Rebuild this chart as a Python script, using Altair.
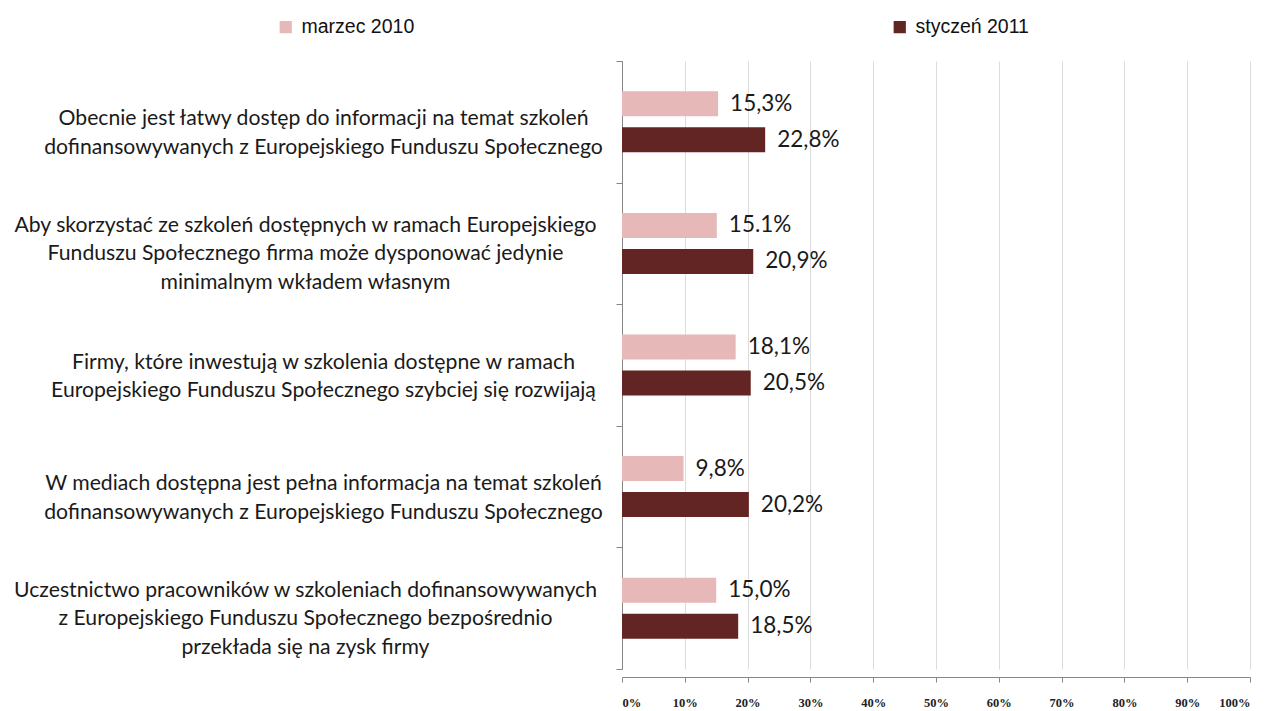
import altair as alt
import pandas as pd

categories = [
    "Obecnie jest łatwy dostęp do informacji na temat szkoleń|dofinansowywanych z Europejskiego Funduszu Społecznego",
    "Aby skorzystać ze szkoleń dostępnych w ramach Europejskiego|Funduszu Społecznego firma może dysponować jedynie|minimalnym wkładem własnym",
    "Firmy, które inwestują w szkolenia dostępne w ramach|Europejskiego Funduszu Społecznego szybciej się rozwijają",
    "W mediach dostępna jest pełna informacja na temat szkoleń|dofinansowywanych z Europejskiego Funduszu Społecznego",
    "Uczestnictwo pracowników w szkoleniach dofinansowywanych|z Europejskiego Funduszu Społecznego bezpośrednio|przekłada się na zysk firmy",
]
series = ["marzec 2010", "styczeń 2011"]
values_2010 = [15.3, 15.1, 18.1, 9.8, 15.0]
values_2011 = [22.8, 20.9, 20.5, 20.2, 18.5]
labels_2010 = ["15,3%", "15.1%", "18,1%", "9,8%", "15,0%"]
labels_2011 = ["22,8%", "20,9%", "20,5%", "20,2%", "18,5%"]
x_ticks = [0, 10, 20, 30, 40, 50, 60, 70, 80, 90, 100]
colors = ["#E6B9B8", "#632523"]

rows = []
for i, c in enumerate(categories):
    rows.append({"cat": c, "series": series[0], "value": values_2010[i], "label": labels_2010[i]})
    rows.append({"cat": c, "series": series[1], "value": values_2011[i], "label": labels_2011[i]})
df = pd.DataFrame(rows)

three_lines = "isString(datum.value) && length(split(datum.value, '|')) == 3"

y_enc = alt.Y(
    "cat:N",
    sort=categories,
    title=None,
    scale=alt.Scale(paddingInner=0, paddingOuter=0),
    axis=alt.Axis(
        labelExpr="isString(datum.value) ? split(datum.value, '|') : ''",
        labelAlign="center",
        labelBaseline="middle",
        labelPadding={"condition": {"test": three_lines, "value": 311}, "value": 293},
        labelOffset={"condition": {"test": three_lines, "value": -18}, "value": -3},
        labelFont="Lato",
        labelFontSize=21.2,
        labelLineHeight=28.5,
        labelColor="#1a1a1a",
        labelLimit=0,
        tickBand="extent",
        tickSize=6,
        tickColor="#868686",
        domainColor="#868686",
        grid=False,
    ),
)
x_enc = alt.X(
    "value:Q",
    title=None,
    scale=alt.Scale(domain=[0, 100], nice=False),
    axis=alt.Axis(
        values=x_ticks,
        labelExpr="datum.value + '%'",
        labelFont="Liberation Serif",
        labelFontWeight="bold",
        labelFontSize=12.5,
        labelColor="#222222",
        labelPadding=14,
        tickSize=5,
        tickColor="#868686",
        domainColor="#868686",
        offset=8,
        grid=True,
        gridColor="#dcdcdc",
    ),
)
yoff = alt.YOffset("series:N", sort=series, scale=alt.Scale(paddingInner=0.306, paddingOuter=0.842))

bars = alt.Chart(df).mark_bar().encode(
    x=x_enc,
    y=y_enc,
    yOffset=yoff,
    color=alt.Color(
        "series:N",
        sort=series,
        scale=alt.Scale(domain=series, range=colors),
        legend=alt.Legend(
            title=None,
            orient="none",
            direction="horizontal",
            legendX=-346,
            legendY=-44,
            symbolType="square",
            symbolSize=150,
            symbolStrokeWidth=0,
            labelFont="Liberation Sans",
            labelFontSize=19.5,
            labelColor="#111111",
            labelOffset=6,
            columnPadding=475,
        ),
    ),
)

text = alt.Chart(df).mark_text(
    align="left", baseline="middle", dx=12, font="Lato", fontSize=22.5, color="#1a1a1a"
).encode(
    x="value:Q",
    y=alt.Y("cat:N", sort=categories),
    yOffset=yoff,
    text="label:N",
)

chart = (
    alt.layer(bars, text)
    .properties(
        width=628,
        height=608,
        padding={"left": 614, "top": 53, "right": 14, "bottom": 40},
        autosize=alt.AutoSizeParams(type="none"),
    )
    .configure_view(stroke=None)
)

chart.save("out.html", embed_options={"renderer": "svg", "actions": False})
